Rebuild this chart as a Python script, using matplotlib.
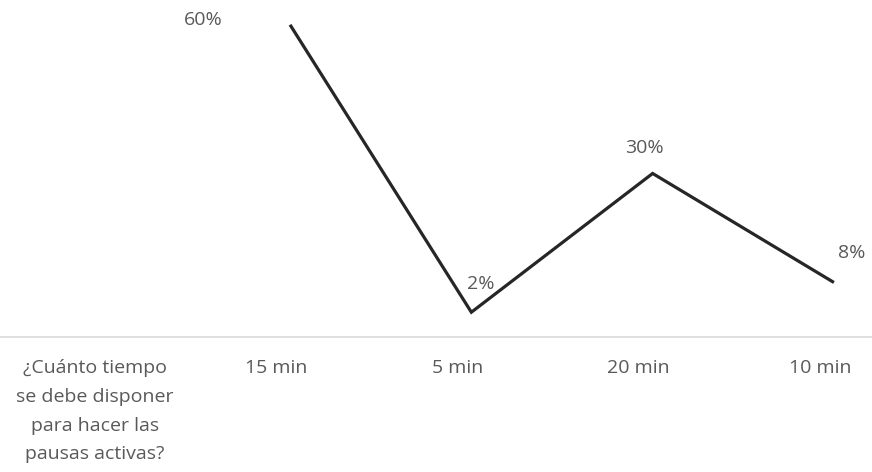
import matplotlib
matplotlib.use("Agg")
import matplotlib.pyplot as plt
import matplotlib.transforms as mtransforms
import numpy as np

categories = ["¿Cuánto tiempo\nse debe disponer\npara hacer las\npausas activas?",
              "15 min", "5 min", "20 min", "10 min"]
values = [np.nan, 60, 2, 30, 8]
value_labels = ["", "60%", "2%", "30%", "8%"]

plt.rcParams['font.family'] = ['Open Sans', 'DejaVu Sans']

fig = plt.figure(figsize=(8.72, 4.72), dpi=100)
ax = fig.add_axes([0, 1 - 337 / 472, 1, 337 / 472])
x = np.arange(len(categories))
ax.plot(x, values, color="#262626", lw=2.3, solid_joinstyle="miter", solid_capstyle="butt")

ax.set_xlim(-0.6, 4.21)
ax.set_ylim(-3.0, 65.0)
ax.set_yticks([])
for s in ["top", "left", "right"]:
    ax.spines[s].set_visible(False)
ax.spines["bottom"].set_color("#d9d9d9")
ax.spines["bottom"].set_linewidth(1.2)

fs = 14
ax.set_xticks(x)
ax.set_xticklabels(categories, fontsize=fs, color="#595959", linespacing=1.76, va="top")
ax.tick_params(axis="x", length=0, pad=16)
offset = mtransforms.ScaledTranslation(-14 / 100, 0, fig.dpi_scale_trans)
for lbl in ax.get_xticklabels():
    lbl.set_transform(lbl.get_transform() + offset)

offsets = [(0, 0), (-87, 5), (9, 28), (-8, 25), (18, 29)]
for xi, v, t, off in zip(x, values, value_labels, offsets):
    if t:
        ax.annotate(t, (xi, v), xytext=off, textcoords="offset pixels",
                    ha="center", va="center", fontsize=fs, color="#595959")

fig.savefig("out.png", dpi=100)
